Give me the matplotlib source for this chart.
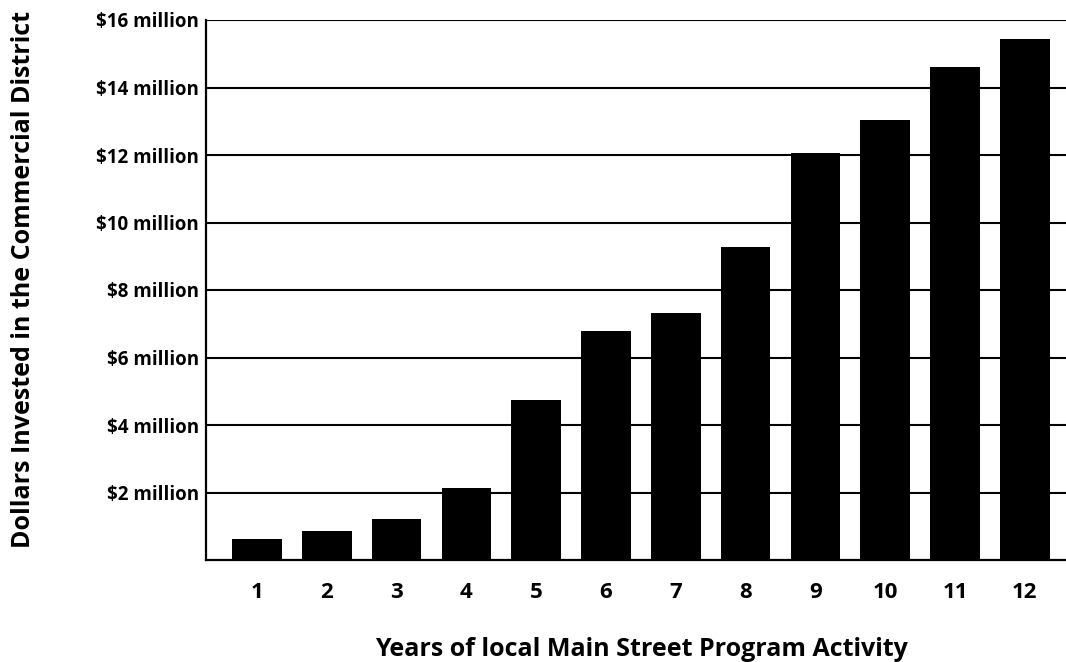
import matplotlib
matplotlib.use("Agg")
import matplotlib.pyplot as plt

years = [1, 2, 3, 4, 5, 6, 7, 8, 9, 10, 11, 12]
investment_millions = [0.61, 0.85, 1.22, 2.12, 4.75, 6.8, 7.33, 9.28, 12.05, 13.03, 14.6, 15.45]
ytick_values = [2, 4, 6, 8, 10, 12, 14, 16]
ytick_labels = ["$2 million", "$4 million", "$6 million", "$8 million",
                "$10 million", "$12 million", "$14 million", "$16 million"]
xlabel = "Years of local Main Street Program Activity"
ylabel = "Dollars Invested in the Commercial District"

plt.rcParams['font.family'] = ['Open Sans', 'DejaVu Sans']

fig = plt.figure(figsize=(10.66, 6.62), dpi=100)
ax = fig.add_axes([206/1066, 1 - 560/662, 1 - 206/1066, 540/662])

ax.bar(years, investment_millions, width=0.71, color='black', zorder=3)
ax.set_xlim(0.27, 12.59)
ax.set_ylim(0, 16)

ax.set_yticks(ytick_values)
ax.set_yticklabels(ytick_labels, fontsize=13.5, fontweight='bold')
ax.set_xticks(years)
ax.set_xticklabels([str(y) for y in years], fontsize=16, fontweight='bold')
ax.tick_params(axis='y', length=0, pad=5)
ax.tick_params(axis='x', length=0, pad=16)

ax.yaxis.grid(True, color='black', linewidth=1.5, zorder=0)
ax.set_axisbelow(True)

for s in ['top', 'right']:
    ax.spines[s].set_visible(False)
for s in ['left', 'bottom']:
    ax.spines[s].set_linewidth(1.6)
    ax.spines[s].set_color('black')

fig.text(641/1066, 1 - 650/662, xlabel, fontsize=18, fontweight='bold',
         ha='center', va='center')
fig.text(24/1066, 1 - 280/662, ylabel, fontsize=18, fontweight='bold',
         ha='center', va='center', rotation=90)

fig.savefig("out.png", dpi=100)
